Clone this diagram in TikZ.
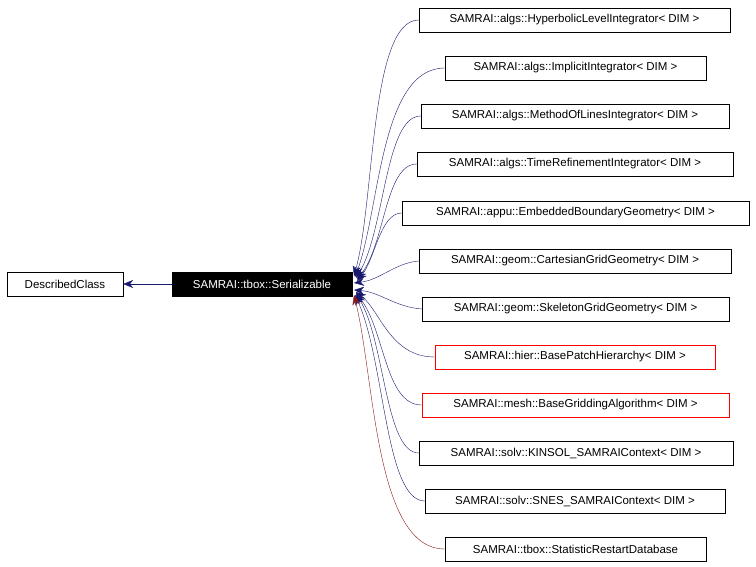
\documentclass[tikz,border=0pt]{standalone}
\usepackage{fontspec}
\setmainfont{Liberation Sans}
\usetikzlibrary{arrows.meta}
\begin{document}
\begin{tikzpicture}[x=1pt,y=-1pt,
 box/.style={draw=black,minimum height=24pt,inner sep=0pt,font=\fontsize{11.5}{13}\selectfont},
 rbox/.style={minimum height=24pt,inner sep=0pt,font=\fontsize{11.5}{13}\selectfont,draw=red,line width=0.7pt},
 edge/.style={draw=navy,-{Stealth[length=10pt,width=8pt]}},
 redge/.style={draw=darkred,-{Stealth[length=10pt,width=8pt]}}]
\definecolor{navy}{RGB}{25,25,112}
\definecolor{darkred}{RGB}{139,26,26}
\useasboundingbox (0,0) rectangle (756,567);
\fill[white] (0,0) rectangle (756,567);
\node[box,minimum width=116pt] (dc) at (65,284) {DescribedClass};
\node[box,fill=black,text=white,minimum width=180pt] (ser) at (262,284) {SAMRAI::tbox::Serializable};
\draw[edge] (ser) -- (dc);
\node[box,minimum width=311pt] (n1) at (574.5,20) {SAMRAI::algs::HyperbolicLevelIntegrator< DIM >};
\node[box,minimum width=261pt] (n2) at (575.5,68) {SAMRAI::algs::ImplicitIntegrator< DIM >};
\node[box,minimum width=308pt] (n3) at (575,116) {SAMRAI::algs::MethodOfLinesIntegrator< DIM >};
\node[box,minimum width=316pt] (n4) at (575,164) {SAMRAI::algs::TimeRefinementIntegrator< DIM >};
\node[box,minimum width=347pt] (n5) at (575.5,213) {SAMRAI::appu::EmbeddedBoundaryGeometry< DIM >};
\node[box,minimum width=312pt] (n6) at (575,261) {SAMRAI::geom::CartesianGridGeometry< DIM >};
\node[box,minimum width=307pt] (n7) at (575.5,309) {SAMRAI::geom::SkeletonGridGeometry< DIM >};
\node[rbox,minimum width=280pt] (n8) at (575,357) {SAMRAI::hier::BasePatchHierarchy< DIM >};
\node[rbox,minimum width=307pt] (n9) at (575.5,405) {SAMRAI::mesh::BaseGriddingAlgorithm< DIM >};
\node[box,minimum width=314pt] (n10) at (576,453) {SAMRAI::solv::KINSOL\_SAMRAIContext< DIM >};
\node[box,minimum width=300pt] (n11) at (575,501) {SAMRAI::solv::SNES\_SAMRAIContext< DIM >};
\node[box,minimum width=261pt] (n12) at (575.5,549) {SAMRAI::tbox::StatisticRestartDatabase};
\draw[edge] (n1.west) .. controls (370,20) and (375,200) .. (354,276);
\draw[edge] (n2.west) .. controls (380,68) and (380,210) .. (355,277);
\draw[edge] (n3.west) .. controls (385,116) and (385,230) .. (356,278);
\draw[edge] (n4.west) .. controls (385,164) and (385,245) .. (357,279);
\draw[edge] (n5.west) .. controls (380,213) and (375,260) .. (357,281);
\draw[edge] (n6.west) .. controls (395,263) and (380,280) .. (354,283);
\draw[edge] (n7.west) .. controls (395,307) and (380,292) .. (354,290);
\draw[edge] (n8.west) .. controls (390,357) and (380,310) .. (356,292);
\draw[edge] (n9.west) .. controls (385,405) and (385,330) .. (356,293);
\draw[edge] (n10.west) .. controls (385,453) and (385,340) .. (356,294);
\draw[edge] (n11.west) .. controls (385,501) and (385,360) .. (355,295);
\draw[redge] (n12.west) .. controls (375,549) and (375,380) .. (354,295);
\end{tikzpicture}
\end{document}
